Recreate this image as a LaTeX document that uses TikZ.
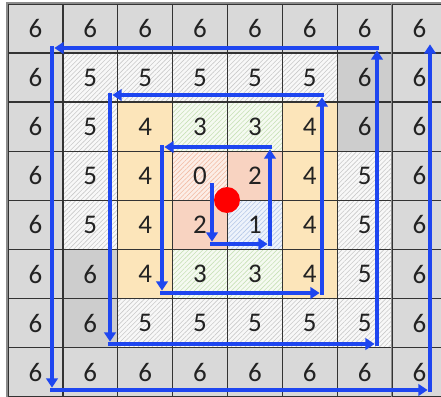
\documentclass[tikz,border=0pt]{standalone}
\usepackage{fontspec}
\setmainfont{Carlito}
\usetikzlibrary{arrows.meta,patterns.meta}
\definecolor{ring6}{HTML}{D9D9D9}
\definecolor{ring6dark}{HTML}{CDCDCD}
\definecolor{bg5}{HTML}{F8F8F8}
\definecolor{hatch5}{HTML}{C9C9C9}
\definecolor{ring4}{HTML}{FCE5BA}
\definecolor{bg3}{HTML}{F5FAF1}
\definecolor{hatch3}{HTML}{C7E1B6}
\definecolor{ring2}{HTML}{F8D3C1}
\definecolor{bg0}{HTML}{FCEEE7}
\definecolor{hatch0}{HTML}{F2BBA3}
\definecolor{bg1}{HTML}{EEF3FB}
\definecolor{hatch1}{HTML}{B4C7E7}
\definecolor{gridline}{HTML}{333333}
\definecolor{rim}{HTML}{8C8C8C}
\definecolor{digit}{HTML}{222222}
\definecolor{spiral}{HTML}{1E46F0}

\begin{document}
\begin{tikzpicture}[
    x=0.03cm, y=-0.03cm,
    font=\fontsize{23}{27}\selectfont,
    cell/.style={rectangle, draw=gridline, line width=1.2pt,
                 minimum width=1.64625cm, minimum height=1.473cm,
                 inner sep=0pt, text=digit},
    lines/.style={pattern={Lines[angle=45,distance=2.8pt,line width=0.5pt]}},
    g6/.style={fill=ring6},
    d6/.style={fill=ring6dark},
    h5/.style={preaction={fill=bg5}, lines, pattern color=hatch5},
    o4/.style={fill=ring4},
    h3/.style={preaction={fill=bg3}, lines, pattern color=hatch3},
    s2/.style={fill=ring2},
    h1/.style={preaction={fill=bg1}, lines, pattern color=hatch1},
    h0/.style={preaction={fill=bg0}, lines, pattern color=hatch0},
    walk/.style={draw=spiral, line width=3.2pt, line cap=rect,
                 -{Triangle[length=8pt,width=10pt]}, shorten >=2pt},
    robot/.style={circle, fill=red, minimum size=0.78cm, inner sep=0pt}
  ]
  \useasboundingbox (0,0) rectangle (441,397);
  \clip (0,0) rectangle (441,397);

  % Distance grid, one row per line.
  \foreach \cells [count=\j from 0] in {
      {g6/6,g6/6,g6/6,g6/6,g6/6,g6/6,g6/6,g6/6},
      {g6/6,h5/5,h5/5,h5/5,h5/5,h5/5,d6/6,g6/6},
      {g6/6,h5/5,o4/4,h3/3,h3/3,o4/4,d6/6,g6/6},
      {g6/6,h5/5,o4/4,h0/0,s2/2,o4/4,h5/5,g6/6},
      {g6/6,h5/5,o4/4,s2/2,h1/1,o4/4,h5/5,g6/6},
      {g6/6,d6/6,o4/4,h3/3,h3/3,o4/4,h5/5,g6/6},
      {g6/6,d6/6,h5/5,h5/5,h5/5,h5/5,h5/5,g6/6},
      {g6/6,g6/6,g6/6,g6/6,g6/6,g6/6,g6/6,g6/6}}{
    \foreach \sty/\val [count=\i from 0] in \cells
      \node[cell, \sty] (c\i\j) at ({8+54.875*(\i+0.5)},{4+49.1*(\j+0.5)})
        {\raisebox{-0.8pt}{\val}};
  }

  % Lighter outer rim.
  \draw[rim, line width=1.4pt] (c70.north east) -| (c07.south west);
  \draw[rim, line width=1.4pt] (c70.north west) -- (c77.south west);

  % Spiral corners.
  \coordinate (s0)  at (212,185);
  \coordinate (s1)  at (212,244);
  \coordinate (s2)  at (270,244);
  \coordinate (s3)  at (270,147);
  \coordinate (s4)  at (162,147);
  \coordinate (s5)  at (162,293);
  \coordinate (s6)  at (322,293);
  \coordinate (s7)  at (322,95);
  \coordinate (s8)  at (110,95);
  \coordinate (s9)  at (110,344);
  \coordinate (s10) at (377,344);
  \coordinate (s11) at (377,48);
  \coordinate (s12) at (52,48);
  \coordinate (s13) at (52,390);
  \coordinate (s14) at (430,390);
  \coordinate (s15) at (430,42);

  % Spiral walk, one arrow per leg.
  \foreach \a [evaluate=\a as \b using int(\a+1)] in {0,...,14}
    \draw[walk] (s\a) -- (s\b);

  % Start point.
  \node[robot] (start) at (227,200) {};

\end{tikzpicture}
\end{document}
